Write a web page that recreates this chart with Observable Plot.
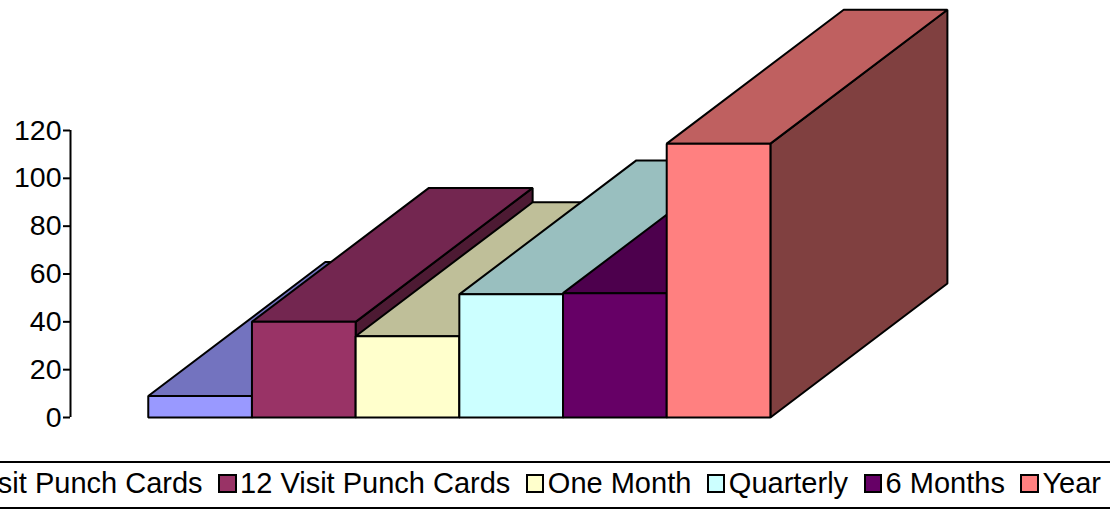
<!DOCTYPE html>
<html>
<head>
<meta charset="utf-8">
<script src="https://cdn.jsdelivr.net/npm/d3@7"></script>
<script src="https://cdn.jsdelivr.net/npm/@observablehq/plot@0.6"></script>
<style>
  html, body { margin: 0; padding: 0; background: #fff; }
  body { width: 1110px; height: 510px; position: relative; overflow: hidden; font-family: "Liberation Sans", Arial, sans-serif; }
  #chart { position: absolute; left: 0; top: 0; }
  #chart svg [aria-label^="y-axis"] line, #chart svg [aria-label^="y-axis"] path { stroke-width: 2px; }
  #legend { position: absolute; left: 0; right: 0; top: 461px; height: 44px; border-top: 2px solid #000; border-bottom: 2px solid #000; }
  #legend .items { position: absolute; right: 9px; top: 6px; height: 29px; display: flex; align-items: center; white-space: nowrap; font-size: 29px; line-height: 29px; color: #000; }
  #legend .item { display: flex; align-items: center; margin-left: 15.5px; }
  #legend .sw { width: 18.5px; height: 18.5px; box-sizing: border-box; border: 2px solid #000; margin-right: 3.5px; }
</style>
</head>
<body>
<div id="chart"></div>
<div id="legend"><div class="items"></div></div>
<script>
// ---- data ----
const categories = ["10 Visit Punch Cards", "12 Visit Punch Cards", "One Month", "Quarterly", "6 Months", "Year"];
const values = [9, 40, 34, 51.5, 52, 114.5];
const yTicks = [0, 20, 40, 60, 80, 100, 120];
// ---- styles ----
const frontColors = ["#9999ff", "#993366", "#ffffcc", "#ccffff", "#660066", "#ff8080"];
const topColors   = ["#7373bf", "#732650", "#bfbf99", "#99bfbf", "#4d004d", "#bf6060"];
const sideColors  = ["#4d4d80", "#4d1a33", "#808066", "#668080", "#330033", "#804040"];

// depth of the 3D boxes (in x units / value units)
const DX = 1.707, DY = 56;
const xDomain = [-0.75, 9.28];

// build polygons in painter's order: side, top, front for each bar left to right
const pts = [];
categories.forEach((c, i) => {
  const v = values[i], x0 = i, x1 = i + 1;
  const faces = [
    ["side", sideColors[i], [[x1, 0], [x1 + DX, DY], [x1 + DX, v + DY], [x1, v]]],
    ["top", topColors[i], [[x0, v], [x1, v], [x1 + DX, v + DY], [x0 + DX, v + DY]]],
    ["front", frontColors[i], [[x0, 0], [x1, 0], [x1, v], [x0, v]]]
  ];
  for (const [name, color, poly] of faces) {
    for (const [x, y] of poly) pts.push({face: c + "-" + name, color, x, y});
  }
});

const chart = Plot.plot({
  width: 1110,
  height: 440,
  marginTop: 130,
  marginBottom: 23,
  marginLeft: 70,
  marginRight: 0,
  style: {fontFamily: '"Liberation Sans", Arial, sans-serif', fontSize: "28.5px", color: "#000", background: "transparent", overflow: "visible"},
  x: {domain: xDomain, axis: null},
  y: {domain: [0, 120], ticks: yTicks, tickSize: 7, tickPadding: 2, label: null, tickFormat: d => String(d)},
  color: {type: "identity"},
  marks: [
    Plot.line(pts, {x: "x", y: "y", z: "face", fill: "color", stroke: "#000", strokeWidth: 2, strokeLinejoin: "miter", curve: "linear-closed"}),
    Plot.ruleX([xDomain[0]], {y1: 0, y2: 120, stroke: "#000", strokeWidth: 2})
  ]
});
document.getElementById("chart").appendChild(chart);

// legend
const items = document.querySelector("#legend .items");
categories.forEach((c, i) => {
  const it = document.createElement("div");
  it.className = "item";
  const sw = document.createElement("div");
  sw.className = "sw";
  sw.style.background = frontColors[i];
  const t = document.createElement("span");
  t.textContent = c;
  it.appendChild(sw); it.appendChild(t);
  items.appendChild(it);
});
</script>
</body>
</html>
